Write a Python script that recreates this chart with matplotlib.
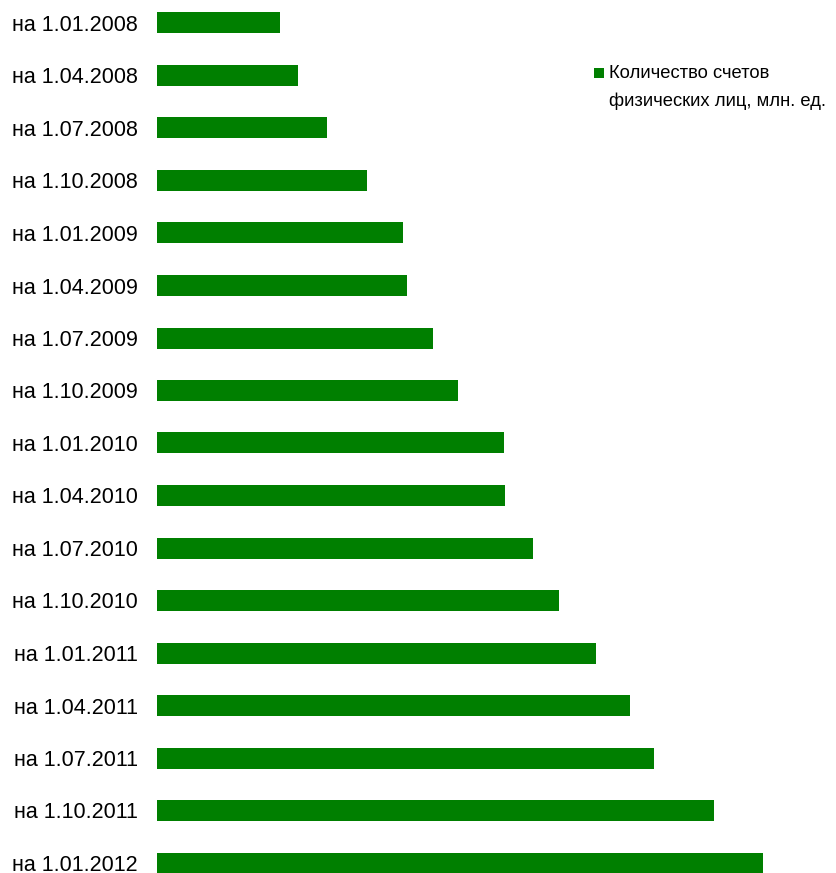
import matplotlib
matplotlib.use("Agg")
import matplotlib.pyplot as plt
from matplotlib.patches import Rectangle

dates = ["на 1.01.2008", "на 1.04.2008", "на 1.07.2008", "на 1.10.2008",
         "на 1.01.2009", "на 1.04.2009", "на 1.07.2009", "на 1.10.2009",
         "на 1.01.2010", "на 1.04.2010", "на 1.07.2010", "на 1.10.2010",
         "на 1.01.2011", "на 1.04.2011", "на 1.07.2011", "на 1.10.2011",
         "на 1.01.2012"]
# relative values (units as in legend, scale estimated)
values = [12.3, 14.1, 17.0, 21.0, 24.6, 25.0, 27.6, 30.1, 34.7, 34.8,
          37.6, 40.2, 43.9, 47.3, 49.7, 55.7, 60.6]
series_name = "Количество счетов\nфизических лиц, млн. ед."

plt.rcParams["font.family"] = ["Liberation Sans", "DejaVu Sans"]

W, H = 837, 873
fig = plt.figure(figsize=(W / 100, H / 100), dpi=100)
left = 157 / W
ax = fig.add_axes([left, 0, 1 - left, 1])

color = "#007F00"
y = list(range(len(dates)))
bars = ax.barh(y, values, height=0.4, color=color, label=series_name)

pitch = 52.5
top_c = 23.0
ax.set_ylim((H - top_c) / pitch, -top_c / pitch)
ax.set_xlim(0, 68.0)
ax.set_yticks(y)
ax.set_yticklabels(dates, fontsize=15.5)
ax.tick_params(axis="y", length=0, pad=14)
ax.set_xticks([])
for s in ax.spines.values():
    s.set_visible(False)

# legend drawn manually so the marker aligns with the first text line
fig.patches.append(Rectangle((594 / W, 1 - 78 / H), 10 / W, 10 / H,
                             transform=fig.transFigure, facecolor=bars.patches[0].get_facecolor(),
                             edgecolor="none"))
fig.text(609 / W, 1 - 65 / H, series_name, fontsize=13.2, ha="left", va="top",
         linespacing=1.75)

fig.savefig("out.png", dpi=100)
